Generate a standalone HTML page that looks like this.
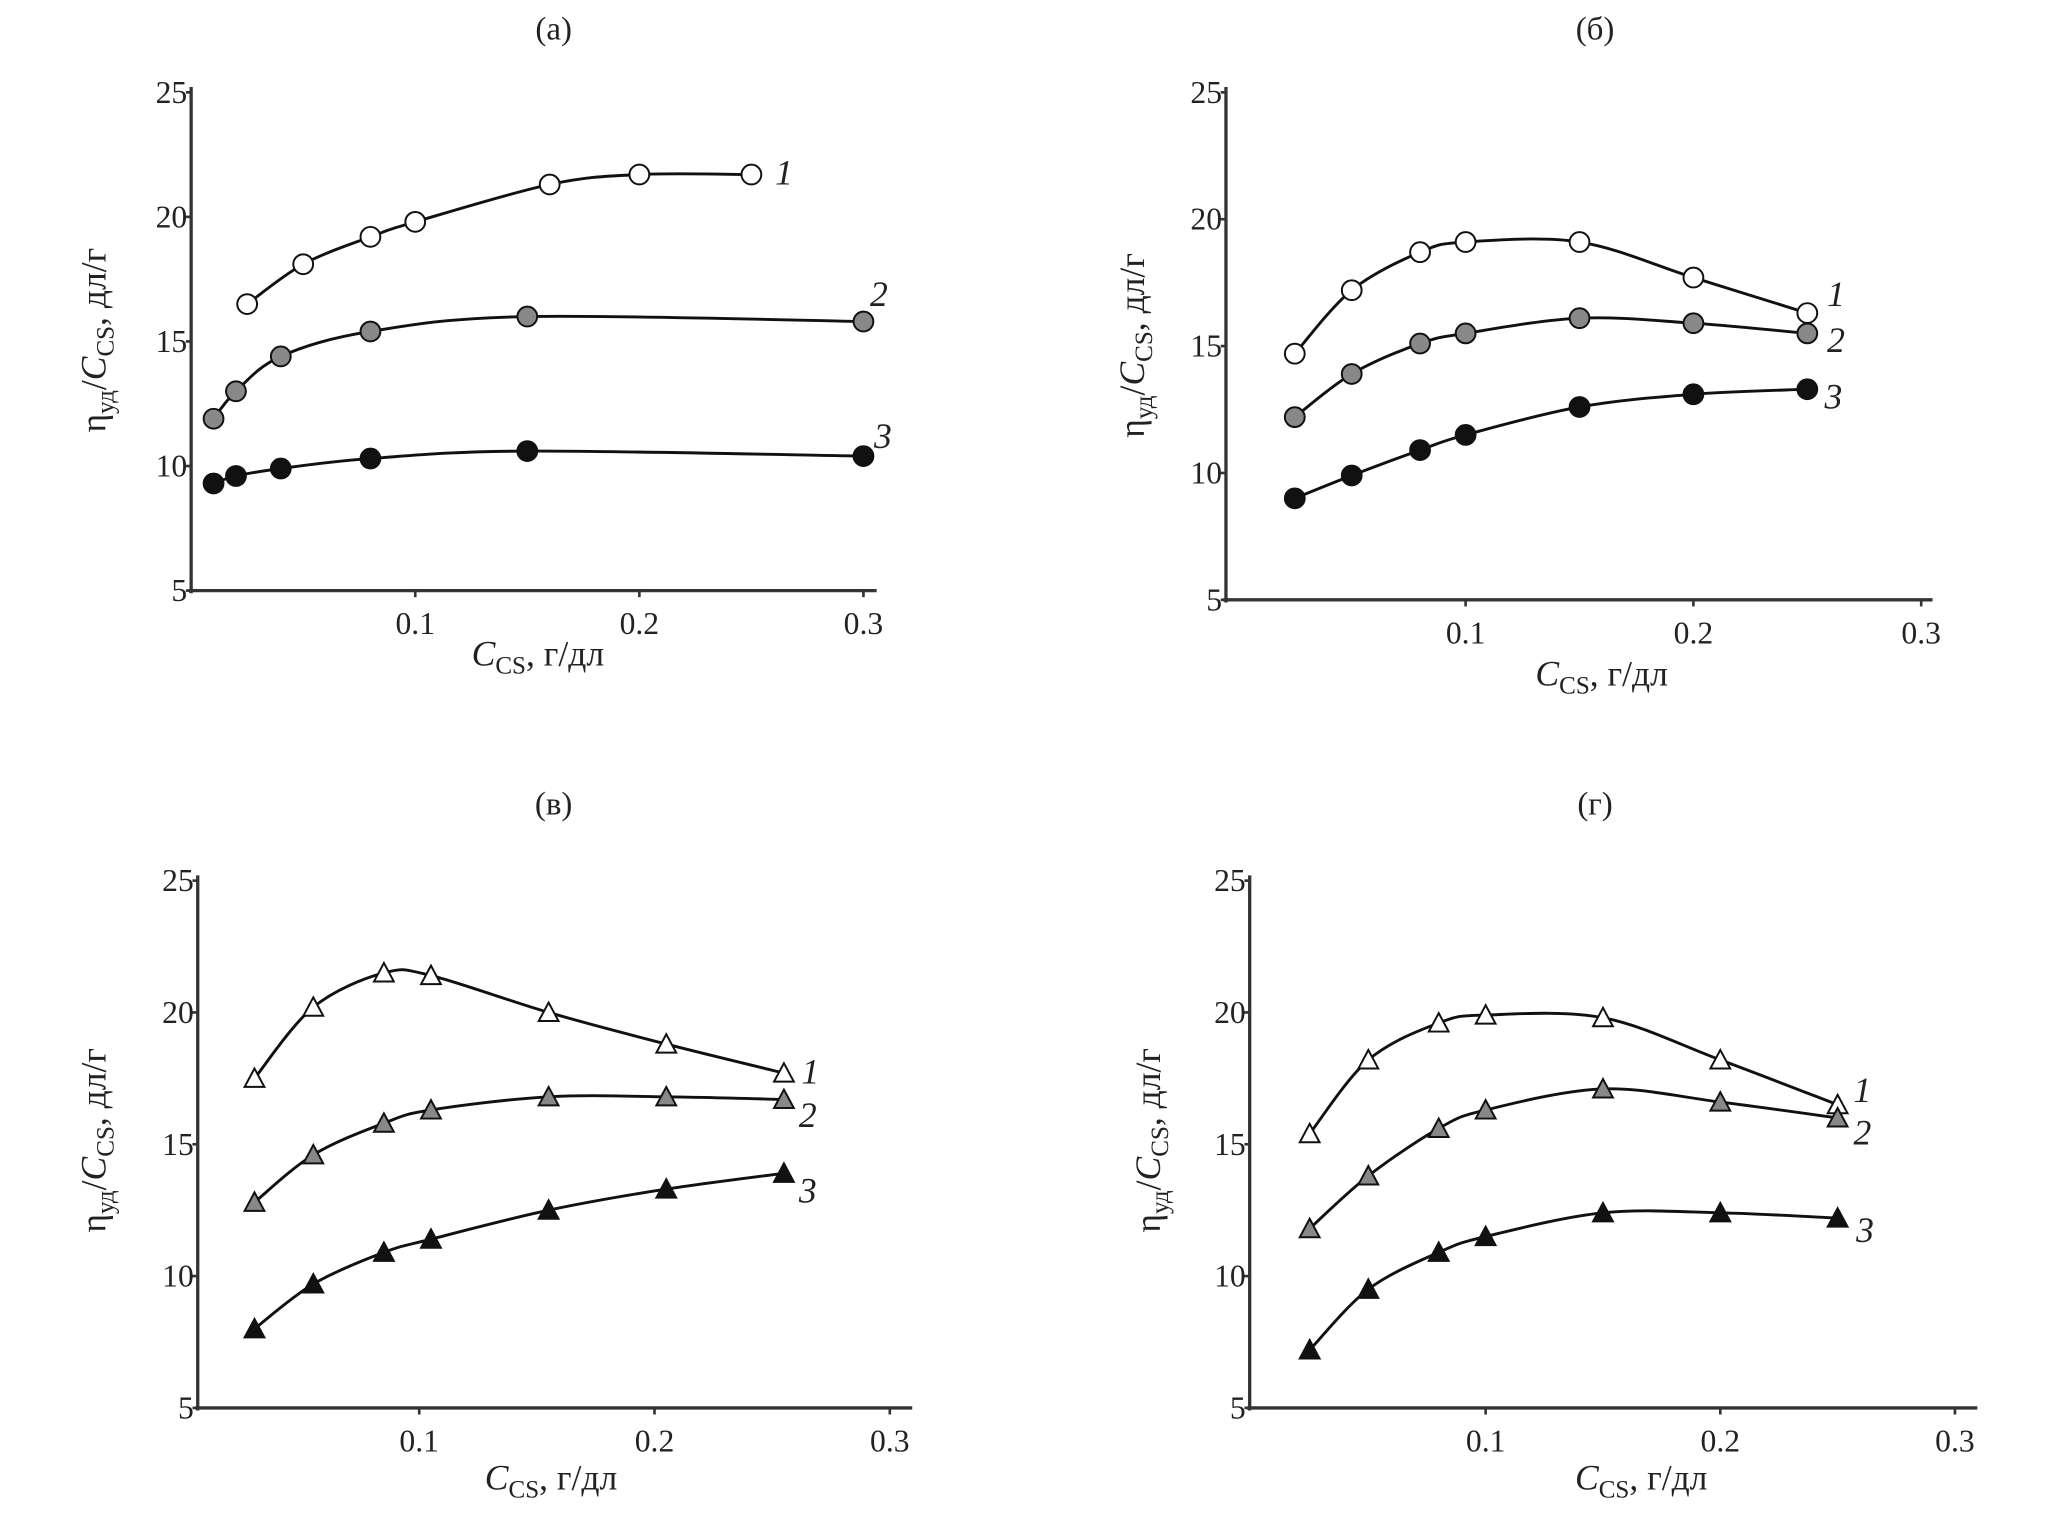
<!DOCTYPE html>
<html><head><meta charset="utf-8"><style>
html,body{margin:0;padding:0;background:#fff}
svg{display:block}
text{font-family:"Liberation Serif",serif;fill:#222}
</style></head><body>
<svg id="chart" width="2067" height="1520" viewBox="0 0 1568 1153" xmlns="http://www.w3.org/2000/svg"></svg>
<script>
// Panel data (x in g/dL, y in dL/g)
const aX1=[0.025,0.05,0.08,0.1,0.16,0.2,0.25], aY1=[16.5,18.1,19.2,19.8,21.3,21.7,21.7];
const aX2=[0.01,0.02,0.04,0.08,0.15,0.3], aY2=[11.9,13.0,14.4,15.4,16.0,15.8];
const aX3=[0.01,0.02,0.04,0.08,0.15,0.3], aY3=[9.3,9.6,9.9,10.3,10.6,10.4];
const bX=[0.025,0.05,0.08,0.1,0.15,0.2,0.25];
const bY1=[14.7,17.2,18.7,19.1,19.1,17.7,16.3];
const bY2=[12.2,13.9,15.1,15.5,16.1,15.9,15.5];
const bY3=[9.0,9.9,10.9,11.5,12.6,13.1,13.3];
const vX=[0.03,0.055,0.085,0.105,0.155,0.205,0.255];
const vY1=[17.5,20.2,21.5,21.4,20.0,18.8,17.7];
const vY2=[12.8,14.6,15.8,16.3,16.8,16.8,16.7];
const vY3=[8.0,9.7,10.9,11.4,12.5,13.3,13.9];
const gX=[0.025,0.05,0.08,0.1,0.15,0.2,0.25];
const gY1=[15.4,18.2,19.6,19.9,19.8,18.2,16.5];
const gY2=[11.8,13.8,15.6,16.3,17.1,16.6,16.0];
const gY3=[7.2,9.5,10.9,11.5,12.4,12.4,12.2];
const yTicks=[5,10,15,20,25];
const xTicks=[0.1,0.2,0.3];
const seriesNames=["1","2","3"];

const NS="http://www.w3.org/2000/svg";
const svg=document.getElementById('chart');
function mk(tag,attrs,parent){const e=document.createElementNS(NS,tag);for(const k in attrs)e.setAttribute(k,attrs[k]);(parent||svg).appendChild(e);return e;}
function spline(pts){let d=`M${pts[0][0]},${pts[0][1]}`;for(let i=0;i<pts.length-1;i++){const p0=pts[i-1]||pts[i],p1=pts[i],p2=pts[i+1],p3=pts[i+2]||p2;const c1=[p1[0]+(p2[0]-p0[0])/6,p1[1]+(p2[1]-p0[1])/6],c2=[p2[0]-(p3[0]-p1[0])/6,p2[1]-(p3[1]-p1[1])/6];d+=` C${c1[0]},${c1[1]} ${c2[0]},${c2[1]} ${p2[0]},${p2[1]}`;}return d;}

const panels=[
 {id:'a',title:'(а)',tx:420,ty:30,ax:145,x0:145,xs:1700,y25:70,y5:448,xEnd:665,marker:'circle',series:[[aX1,aY1],[aX2,aY2],[aX3,aY3]],lab:[[588,140],[660,232],[663,340]],xt:[408,505],yt:[80,258]},
 {id:'b',title:'(б)',tx:1210,ty:30,ax:930,x0:939,xs:1728,y25:70,y5:455,xEnd:1466,marker:'circle',series:[[bX,bY1],[bX,bY2],[bX,bY3]],lab:[[1386,232],[1386,267],[1384,310]],xt:[1215,520],yt:[868,262]},
 {id:'c',title:'(в)',tx:420,ty:618,ax:150,x0:139.5,xs:1785,y25:668,y5:1068,xEnd:692,marker:'tri',series:[[vX,vY1],[vX,vY2],[vX,vY3]],lab:[[608,822],[606,855],[606,912]],xt:[418,1130],yt:[80,865]},
 {id:'d',title:'(г)',tx:1210,ty:618,ax:948,x0:949,xs:1780,y25:668,y5:1068,xEnd:1500,marker:'tri',series:[[gX,gY1],[gX,gY2],[gX,gY3]],lab:[[1406,836],[1406,868],[1408,942]],xt:[1245,1130],yt:[880,865]}
];
const fills=['#fff','#888','#111'];
panels.forEach(p=>{
 const g=mk('g',{});
 
 
 const X=v=>p.x0+v*p.xs, Y=v=>p.y5-(v-5)*(p.y5-p.y25)/20;
 const t=mk('text',{x:p.tx,y:p.ty,'font-size':25,'text-anchor':'middle'},g);t.textContent=p.title;
 
 const ya=mk('line',{x1:p.ax,y1:Y(25)-4,x2:p.ax,y2:p.y5+2,stroke:'#333','stroke-width':2.5},g);
 
 const xa=mk('line',{x1:p.ax-2,y1:p.y5,x2:p.xEnd,y2:p.y5,stroke:'#333','stroke-width':2.5},g);
 
 yTicks.forEach(v=>{mk('line',{x1:p.ax-4,y1:Y(v),x2:p.ax,y2:Y(v),stroke:'#333','stroke-width':2},g);
  const l=mk('text',{x:p.ax-3,y:Y(v)+8,'font-size':24,'text-anchor':'end'},g);l.textContent=v;
  });
 xTicks.forEach(v=>{mk('line',{x1:X(v),y1:p.y5,x2:X(v),y2:p.y5+5,stroke:'#333','stroke-width':2},g);
  const l=mk('text',{x:X(v),y:p.y5+33,'font-size':24,'text-anchor':'middle'},g);l.textContent=v;
  });
 const xt=mk('text',{x:p.xt[0],y:p.xt[1],'font-size':27,'text-anchor':'middle'},g);
 xt.innerHTML='<tspan font-style="italic">C</tspan><tspan font-size="19" dy="6">CS</tspan><tspan dy="-6">, г/дл</tspan>';
 
 const yt=mk('text',{x:0,y:0,'font-size':27,'text-anchor':'middle',transform:`translate(${p.yt[0]},${p.yt[1]}) rotate(-90)`},g);
 yt.innerHTML='η<tspan font-size="19" dy="6">уд</tspan><tspan dy="-6">/</tspan><tspan font-style="italic">C</tspan><tspan font-size="19" dy="6">CS</tspan><tspan dy="-6">, дл/г</tspan>';
 
 p.series.forEach((s,si)=>{
  const pts=s[0].map((x,i)=>[X(x),Y(s[1][i])]);
  const path=mk('path',{d:spline(pts),fill:'none',stroke:'#111','stroke-width':2.2},g);
  
  pts.forEach(pt=>{let m;
   if(p.marker==='circle') m=mk('circle',{cx:pt[0],cy:pt[1],r:7.5,fill:fills[si],stroke:'#111','stroke-width':1.5},g);
   else m=mk('polygon',{points:`${pt[0]},${pt[1]-7.5} ${pt[0]-7.5},${pt[1]+6.5} ${pt[0]+7.5},${pt[1]+6.5}`,fill:fills[si],stroke:'#111','stroke-width':1.5},g);
   });
  const lb=mk('text',{x:p.lab[si][0],y:p.lab[si][1],'font-size':27,'font-style':'italic'},g);lb.textContent=seriesNames[si];
  
 });
});
</script>
</body></html>
